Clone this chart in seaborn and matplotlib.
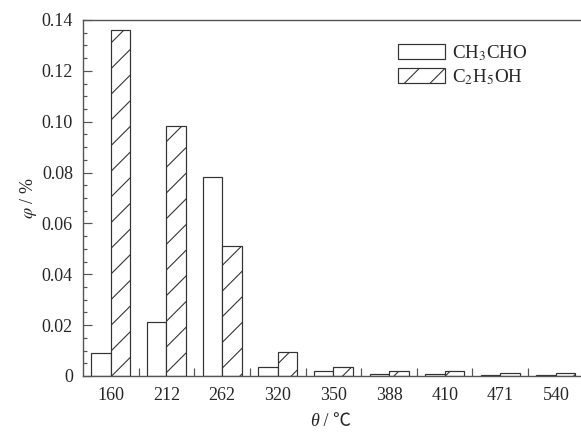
import numpy as np
import pandas as pd
import matplotlib
matplotlib.use("Agg")
import matplotlib.pyplot as plt
import seaborn as sns
from matplotlib.patches import Patch
from matplotlib.ticker import MultipleLocator, FixedLocator, FuncFormatter

# ---- data ----
temperatures = ["160", "212", "262", "320", "350", "388", "410", "471", "540"]
ch3cho = [0.0092, 0.0212, 0.0783, 0.0035, 0.0020, 0.0009, 0.0007, 0.0003, 0.0003]
c2h5oh = [0.1362, 0.0983, 0.0511, 0.0094, 0.0037, 0.0021, 0.0020, 0.0011, 0.0013]
series_names = ["CH3CHO", "C2H5OH"]
legend_labels = [r"CH$_3$CHO", r"C$_2$H$_5$OH"]

df = pd.DataFrame({
    "temp": temperatures * 2,
    "value": ch3cho + c2h5oh,
    "species": [series_names[0]] * len(temperatures) + [series_names[1]] * len(temperatures),
})

# ---- style ----
DPI = 77
def pt(pxv):
    return pxv * 72.0 / DPI

sns.set_style("ticks")
FAM = ["Liberation Serif", "Noto Sans CJK SC", "DejaVu Sans"]
plt.rcParams["font.family"] = FAM
plt.rcParams["mathtext.fontset"] = "stix"
plt.rcParams["hatch.linewidth"] = pt(1.1)
plt.rcParams["hatch.color"] = "#333333"
edge = "#333333"
spine_c = "#555555"
FS = pt(18)

fig = plt.figure(figsize=(581 / DPI, 432 / DPI), dpi=DPI)
ax = fig.add_axes([83 / 581, 56 / 432, 498 / 581, 356 / 432])

sns.barplot(data=df, x="temp", y="value", hue="species", order=temperatures,
            hue_order=series_names, palette=["white", "white"], width=0.7,
            edgecolor=edge, linewidth=pt(1.2), ax=ax, legend=False)

n = len(temperatures)
for i, p in enumerate(ax.patches[:2 * n]):
    if i >= n:
        p.set_hatch("/")
    p.set_edgecolor(edge)

ax.set_xlim(-0.5, 8.45)
ax.set_ylim(0, 0.14)

for s in ["left", "bottom", "top"]:
    ax.spines[s].set_color(spine_c)
    ax.spines[s].set_linewidth(pt(1.4))
ax.spines["right"].set_visible(False)

ax.yaxis.set_major_locator(MultipleLocator(0.02))
ax.yaxis.set_minor_locator(MultipleLocator(0.005))
ax.yaxis.set_major_formatter(FuncFormatter(lambda v, p: "0" if abs(v) < 1e-9 else f"{v:.2f}"))
ax.tick_params(axis="y", which="major", direction="in", length=pt(9), width=pt(1.2),
               color=spine_c, labelsize=FS, pad=pt(10))
ax.tick_params(axis="y", which="minor", direction="in", length=pt(4), width=pt(1.2), color=spine_c)

ax.xaxis.set_minor_locator(FixedLocator(np.arange(0.5, 8.5, 1.0)))
ax.tick_params(axis="x", which="major", length=0, labelsize=FS, pad=pt(11))
ax.tick_params(axis="x", which="minor", direction="in", length=pt(8.5), width=pt(1.2), color=spine_c)
ax.tick_params(top=False, right=False, which="both")

ax.set_xlabel("")
# x label: italic theta + upright " / ℃"
xlab_x = 319 / 581
xlab_y = 1 - 421 / 432
fig.text(xlab_x, xlab_y, "θ", fontsize=FS, style="italic", ha="right", va="center",
         family=["Liberation Serif"])
fig.text(xlab_x, xlab_y, " / ℃", fontsize=FS, ha="left", va="center", family=FAM)

ax.set_ylabel(r"$\varphi$ / %", fontsize=FS, labelpad=pt(3))

handles = [Patch(facecolor="white", edgecolor=edge, linewidth=pt(1.2)),
           Patch(facecolor="white", edgecolor=edge, linewidth=pt(1.2), hatch="/")]
ax.legend(handles, legend_labels, loc="upper left", bbox_to_anchor=(0.6325, 0.935),
          frameon=False, borderaxespad=0, borderpad=0, fontsize=pt(19),
          handlelength=2.45, handleheight=0.8, handletextpad=0.38, labelspacing=0.22)

fig.savefig("out.png", dpi=DPI)
